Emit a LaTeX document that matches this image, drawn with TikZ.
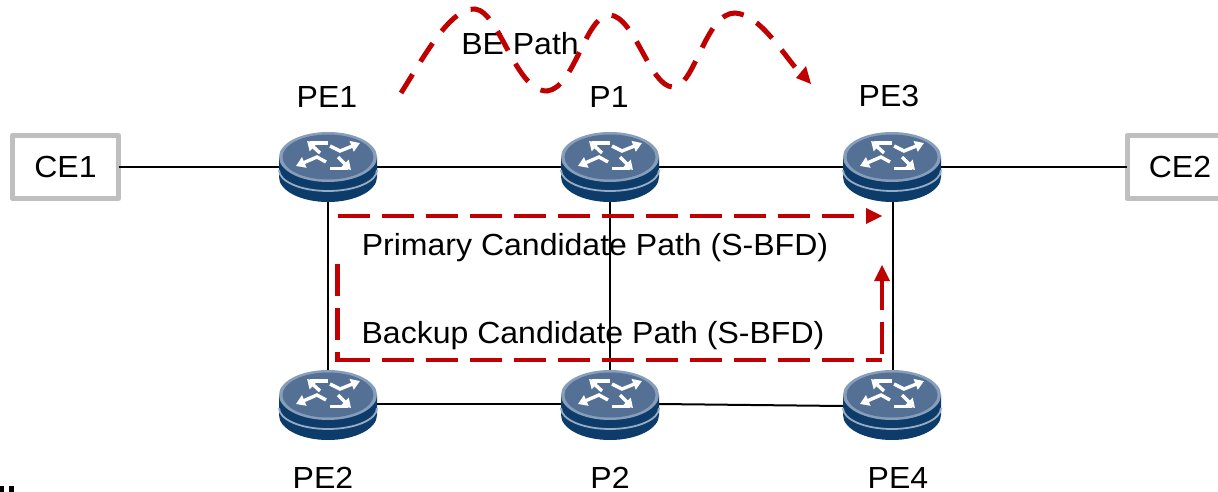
\documentclass[tikz,border=0pt]{standalone}
\usepackage{fontspec}
\setmainfont[FakeStretch=1.05]{Liberation Sans}
\usetikzlibrary{arrows.meta}
\definecolor{pathred}{RGB}{192,0,0}
\definecolor{rtop}{RGB}{84,112,148}
\definecolor{rrim}{RGB}{134,158,186}
\definecolor{rbody}{RGB}{14,60,106}
\definecolor{rsep}{RGB}{150,172,196}
\definecolor{cegray}{RGB}{191,191,191}
\tikzset{
  x=1pt,y=-1pt,
  lbl/.style={font=\fontsize{30.5}{32}\selectfont,text=black,inner sep=0pt,anchor=base},
  routerbox/.style={draw=none,minimum width=98pt,minimum height=70pt,inner sep=0pt,outer sep=0pt},
  cebox/.style={draw=cegray,line width=5pt,line join=round,fill=white,inner sep=0pt,outer sep=0pt,font=\fontsize{30.5}{32}\selectfont,minimum width=106pt,minimum height=63pt},
  link/.style={draw=black,line width=2pt},
  redpath/.style={draw=pathred,line width=4.5pt,dash pattern=on 32pt off 12pt},
  redwave/.style={draw=pathred,line width=5pt,dash pattern=on 22pt off 15pt},
  redhead/.style={fill=pathred,draw=none},
  arr/.style={draw=white,line width=3.4pt,line join=miter,-{Triangle[length=9pt,width=11pt]}},
  bar/.style={draw=white,line width=3.4pt},
}
\newcommand{\routericon}[1]{%
  \begin{scope}[shift={(#1)}]
    \fill[rbody] (-49,-10) -- (-49,10) arc[start angle=180,end angle=0,x radius=49,y radius=25] -- (49,-10) -- cycle;
    \draw[rsep,line width=1.8pt] (-49,3) arc[start angle=180,end angle=0,x radius=49,y radius=21];
    \fill[rrim] (0,-10) ellipse[x radius=49,y radius=25];
    \fill[rtop] (0,-10) ellipse[x radius=45.5,y radius=22.5];
    \draw[arr] (2,-21) -- (12,-16) -- (32,-24);
    \draw[arr] (-2,-5) -- (-11,-10) -- (-32,-1);
    \draw[arr] (-8,-14) -- (-21,-26);
    \draw[bar] (-18,-24) -- (0,-24);
    \draw[arr] (10,-10) -- (23,3);
    \draw[bar] (2,1.5) -- (20,1.5);
  \end{scope}}
\begin{document}
\begin{tikzpicture}
\useasboundingbox (0,0) rectangle (1218,492);
\clip (0,0) rectangle (1218,492);
\fill[white] (0,0) rectangle (1218,492);
\node[routerbox] (pe1) at (328,167) {};
\node[routerbox] (p1) at (610,167) {};
\node[routerbox] (pe3) at (892,167) {};
\node[routerbox] (pe2) at (328,405) {};
\node[routerbox] (p2) at (610,405) {};
\node[routerbox] (pe4) at (892,405) {};
\node[cebox] (ce1) at (65.5,167) {CE1};
\node[cebox] (ce2) at (1180,167) {CE2};
\draw[link] (ce1) -- (pe1);
\draw[link] (pe1) -- (p1);
\draw[link] (p1) -- (pe3);
\draw[link] (pe3) -- (ce2);
\draw[link] ([yshift=1pt]pe2.east) -- ([yshift=1pt]p2.west);
\draw[link] ([yshift=1pt]p2.east) -- ([yshift=-1pt]pe4.west);
\draw[link] (pe1) -- (pe2);
\draw[link] (p1) -- (p2);
\draw[link] ([xshift=1pt]pe3.south) -- ([xshift=1pt]pe4.north);
\routericon{328,167}
\routericon{610,167}
\routericon{892,167}
\routericon{328,405}
\routericon{610,405}
\routericon{892,405}
\node[lbl] (lpe1) at (327,108) {PE1};
\node[lbl] (lp1) at (609,108) {P1};
\node[lbl] (lpe3) at (889,106.5) {PE3};
\node[lbl] (lpe2) at (323,488) {PE2};
\node[lbl] (lp2) at (610,488) {P2};
\node[lbl] (lpe4) at (898,488) {PE4};
\node[lbl] (lbe) at (520,55) {BE Path};
\node[lbl] (lprim) at (595,255) {Primary Candidate Path (S-BFD)};
\node[lbl] (lback) at (593,343) {Backup Candidate Path (S-BFD)};
\coordinate (w0) at (401,93);
\coordinate (w9) at (803,77);
\draw[redwave] (w0) .. controls (425,55) and (450,8) .. (475,9)
  .. controls (500,12) and (515,91) .. (547,91)
  .. controls (575,88) and (585,15) .. (610,15)
  .. controls (635,17) and (650,87) .. (673,87)
  .. controls (695,87) and (705,13) .. (735,13)
  .. controls (760,15) and (780,50) .. (w9);
\fill[redhead] (811,84) -- (796,78) -- (806,66) -- cycle;
\coordinate (a0) at (337.5,216);
\coordinate (a1) at (866,216);
\draw[redpath] (a0) -- (a1);
\fill[redhead] (882,216) -- (866,208) -- (866,224) -- cycle;
\coordinate (b0) at (337.5,264);
\coordinate (b1) at (337.5,360);
\coordinate (b2) at (882,360);
\coordinate (b3) at (882,280);
\draw[redpath] (b0) -- ([yshift=-2.25pt]b1);
\draw[redpath] (b1) -- (b2);
\draw[redpath,dash phase=38pt] (b2) -- (b3);
\fill[redhead] (882,265) -- (874,281) -- (890,281) -- cycle;
\fill[black] (0,486) rectangle (4,492);
\fill[black] (9,486) rectangle (14,492);
\end{tikzpicture}
\end{document}
